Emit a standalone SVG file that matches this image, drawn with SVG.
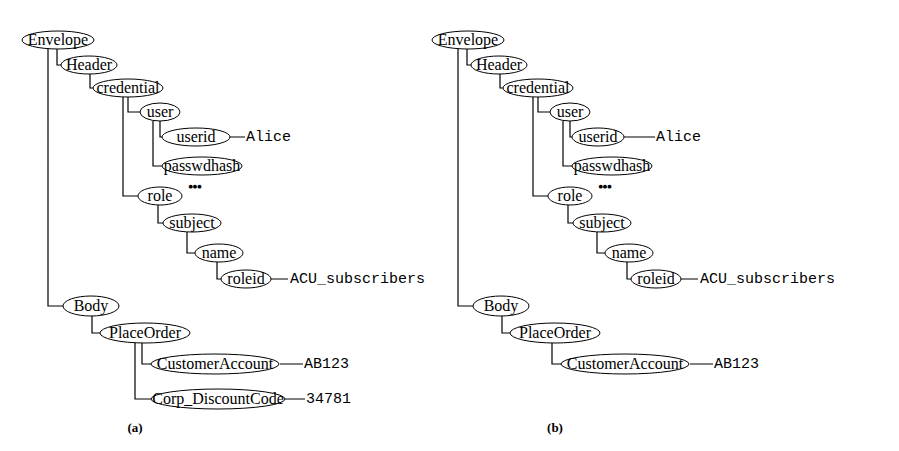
<svg xmlns="http://www.w3.org/2000/svg" width="899" height="451" viewBox="0 0 899 451">
<style>
ellipse{fill:#fff;stroke:#000;stroke-width:1}
.l{font-family:"Liberation Serif",serif;font-size:16px;text-anchor:middle;fill:#000}
.v{font-family:"Liberation Mono",monospace;font-size:15px;fill:#000}
.c path{fill:none;stroke:#000;stroke-width:1.2}
.cap{font-family:"Liberation Serif",serif;font-size:13px;font-weight:bold;text-anchor:middle}
.d{font-family:"DejaVu Sans",sans-serif;font-size:5px;text-anchor:middle}
</style>
<rect width="899" height="451" fill="#fff"/>
<g id="treeA">
<g class="c" id="connA">
<path d="M57,49V65H61M48,49V306H63M90,74V88H94M128,97V112H141M123,97V196H138M160,121V137H162M153,121V166H163M158,205V223H163M187,232V253H195M217,262V279H222M92,315V333H100M142,342V364H151M135,342V399H151M230,137H245M271,279H288M280,364H303M285,399H305"/>
</g>
<g id="a-envelope"><ellipse cx="58" cy="40" rx="36" ry="9"/><text class="l" x="58" y="45">Envelope</text></g>
<g id="a-header"><ellipse cx="89" cy="65" rx="28" ry="9"/><text class="l" x="89" y="70">Header</text></g>
<g id="a-credential"><ellipse cx="128" cy="88" rx="35" ry="9"/><text class="l" x="128" y="93">credential</text></g>
<g id="a-user"><ellipse cx="160" cy="112" rx="20" ry="9"/><text class="l" x="160" y="117">user</text></g>
<g id="a-userid"><ellipse cx="196" cy="137" rx="34" ry="9"/><text class="l" x="196" y="142">userid</text></g>
<g id="a-passwdhash"><ellipse cx="202" cy="166" rx="40" ry="9"/><text class="l" x="202" y="171">passwdhash</text></g>
<text class="d" x="195" y="188">●●●</text>
<g id="a-role"><ellipse cx="160" cy="196" rx="22" ry="9"/><text class="l" x="160" y="201">role</text></g>
<g id="a-subject"><ellipse cx="192" cy="223" rx="29" ry="9"/><text class="l" x="192" y="228">subject</text></g>
<g id="a-name"><ellipse cx="219" cy="253" rx="24" ry="9"/><text class="l" x="219" y="258">name</text></g>
<g id="a-roleid"><ellipse cx="246" cy="279" rx="25" ry="9"/><text class="l" x="246" y="284">roleid</text></g>
<g id="a-body"><ellipse cx="91" cy="306" rx="28" ry="10"/><text class="l" x="91" y="311">Body</text></g>
<g id="a-placeorder"><ellipse cx="145" cy="333" rx="45" ry="10"/><text class="l" x="145" y="338">PlaceOrder</text></g>
<g id="a-customeraccount"><ellipse cx="215" cy="364" rx="64" ry="10"/><text class="l" x="215" y="369">CustomerAccount</text></g>
<g id="a-corp"><ellipse cx="218" cy="399" rx="67" ry="10"/><text class="l" x="218" y="404">Corp_DiscountCode</text></g>
<text class="v" x="246" y="141">Alice</text>
<text class="v" x="290" y="283">ACU_subscribers</text>
<text class="v" x="304" y="368">AB123</text>
<text class="v" x="306" y="403">34781</text>
<text class="cap" x="135" y="432">(a)</text>
</g>
<g id="treeB" transform="translate(410,0)">
<g class="c" id="connB">
<path d="M57,49V65H61M48,49V306H63M90,74V88H94M128,97V112H141M123,97V196H138M160,121V137H162M153,121V166H163M158,205V223H163M187,232V253H195M217,262V279H222M92,315V333H100M142,342V364H151M214,137H245M271,279H288M280,364H303"/>
</g>
<g id="b-envelope"><ellipse cx="58" cy="40" rx="36" ry="9"/><text class="l" x="58" y="45">Envelope</text></g>
<g id="b-header"><ellipse cx="89" cy="65" rx="28" ry="9"/><text class="l" x="89" y="70">Header</text></g>
<g id="b-credential"><ellipse cx="128" cy="88" rx="35" ry="9"/><text class="l" x="128" y="93">credential</text></g>
<g id="b-user"><ellipse cx="160" cy="112" rx="20" ry="9"/><text class="l" x="160" y="117">user</text></g>
<g id="b-userid"><ellipse cx="188" cy="137" rx="26" ry="9"/><text class="l" x="188" y="142">userid</text></g>
<g id="b-passwdhash"><ellipse cx="202" cy="166" rx="40" ry="9"/><text class="l" x="202" y="171">passwdhash</text></g>
<text class="d" x="195" y="188">●●●</text>
<g id="b-role"><ellipse cx="160" cy="196" rx="22" ry="9"/><text class="l" x="160" y="201">role</text></g>
<g id="b-subject"><ellipse cx="192" cy="223" rx="29" ry="9"/><text class="l" x="192" y="228">subject</text></g>
<g id="b-name"><ellipse cx="219" cy="253" rx="24" ry="9"/><text class="l" x="219" y="258">name</text></g>
<g id="b-roleid"><ellipse cx="246" cy="279" rx="25" ry="9"/><text class="l" x="246" y="284">roleid</text></g>
<g id="b-body"><ellipse cx="91" cy="306" rx="28" ry="10"/><text class="l" x="91" y="311">Body</text></g>
<g id="b-placeorder"><ellipse cx="145" cy="333" rx="45" ry="10"/><text class="l" x="145" y="338">PlaceOrder</text></g>
<g id="b-customeraccount"><ellipse cx="215" cy="364" rx="64" ry="10"/><text class="l" x="215" y="369">CustomerAccount</text></g>
<text class="v" x="246" y="141">Alice</text>
<text class="v" x="290" y="283">ACU_subscribers</text>
<text class="v" x="304" y="368">AB123</text>
<text class="cap" x="145" y="432">(b)</text>
</g>
</svg>
